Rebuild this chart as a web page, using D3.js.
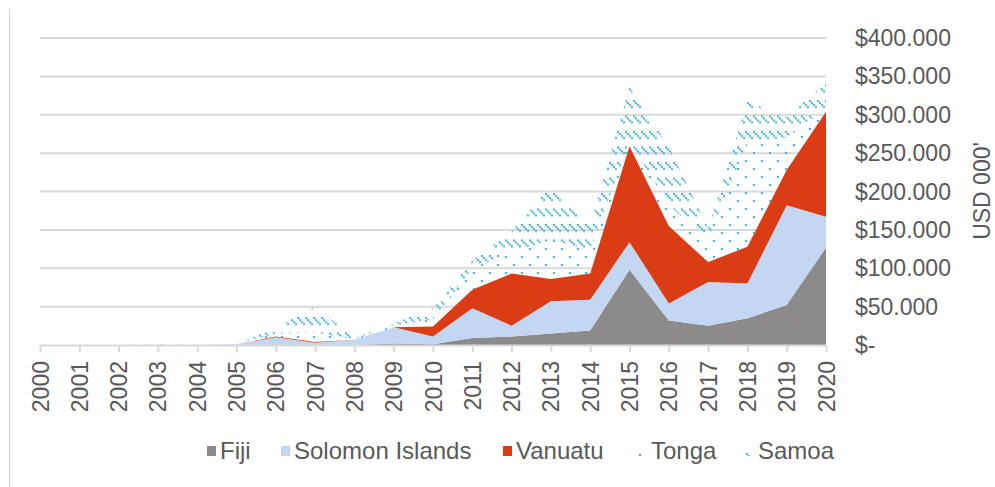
<!DOCTYPE html>
<html>
<head>
<meta charset="utf-8">
<script src="https://cdn.jsdelivr.net/npm/d3@7"></script>
<style>
  html, body { margin: 0; padding: 0; background: #fff; }
  svg { display: block; font-family: 'Liberation Sans', Arial, sans-serif; }
</style>
</head>
<body>
<div id="chart"></div>
<script>
// categories
const years = ['2000','2001','2002','2003','2004','2005','2006','2007','2008','2009','2010',
               '2011','2012','2013','2014','2015','2016','2017','2018','2019','2020']

// series values, USD 000'
const fiji    = [0, 0, 0, 0, 0, 0, 0, 0, 0, 2, 1, 9, 11, 15, 19, 98, 32, 25, 35, 52, 127]
const solomon = [0, 0, 0, 0, 0, 1, 10, 3, 7, 21, 10, 39, 14, 42, 40, 36, 22, 57, 45, 130, 40]
const vanuatu = [0, 0, 0, 0, 0, 0, 1, 1, 0, 0, 13, 24, 68, 29, 34, 125, 101, 26, 48, 46, 137]
const tonga   = [0, 0, 0, 1, 0, 0, 4, 12, 1, 2, 10, 28, 28, 51, 31, 6, 27, 29, 137, 42, 5]
const samoa   = [2, 0, 0, 1, 0, 0, 7, 34, 1, 3, 14, 10, 27, 71, 32, 71, 76, 15, 52, 27, 32]

const seriesNames = ['Fiji', 'Solomon Islands', 'Vanuatu', 'Tonga', 'Samoa']
const yTicks = [0, 50, 100, 150, 200, 250, 300, 350, 400]

const W = 995, H = 487
const blue = '#3fb2e6'

const table = years.map((yr, i) => ({
  year: yr,
  'Fiji': fiji[i],
  'Solomon Islands': solomon[i],
  'Vanuatu': vanuatu[i],
  'Tonga': tonga[i],
  'Samoa': samoa[i]
}))

const svg = d3.select('#chart').append('svg')
  .attr('width', W).attr('height', H)

// pattern fills: Tonga = sparse dots, Samoa = short downward diagonal dashes
const defs = svg.append('defs')
const pTonga = defs.append('pattern').attr('id', 'pat-tonga')
  .attr('patternUnits', 'userSpaceOnUse')
  .attr('x', 9).attr('y', 0).attr('width', 16).attr('height', 16)
pTonga.append('rect').attr('x', 0).attr('y', 0).attr('width', 2).attr('height', 2).attr('fill', blue)
pTonga.append('rect').attr('x', 8).attr('y', 8).attr('width', 2).attr('height', 2).attr('fill', blue)

const pSamoa = defs.append('pattern').attr('id', 'pat-samoa')
  .attr('patternUnits', 'userSpaceOnUse')
  .attr('x', 1).attr('y', 7).attr('width', 8).attr('height', 15.5)
;[0, 2, 4, 6].forEach(d => {
  pSamoa.append('rect').attr('x', d).attr('y', d).attr('width', 2).attr('height', 2).attr('fill', blue)
})

const fills = {
  'Fiji': '#8c8a8b',
  'Solomon Islands': '#c3d7f2',
  'Vanuatu': '#da3c15',
  'Tonga': 'url(#pat-tonga)',
  'Samoa': 'url(#pat-samoa)'
}

// chart frame (only the left edge is in view)
svg.append('line')
  .attr('x1', 9.5).attr('x2', 9.5).attr('y1', 9).attr('y2', H)
  .attr('stroke', '#c9d6ee').attr('stroke-width', 1)

const x = d3.scalePoint().domain(years).range([40, 826])
const y = d3.scaleLinear().domain([0, 400]).range([345, 38])

// gridlines
svg.append('g').selectAll('line')
  .data(yTicks.filter(d => d > 0))
  .join('line')
  .attr('x1', 40).attr('x2', 826)
  .attr('y1', d => y(d)).attr('y2', d => y(d))
  .attr('stroke', '#d9d9d9').attr('stroke-width', 2)

// stacked areas
const stack = d3.stack().keys(seriesNames)
const layers = stack(table)
const area = d3.area()
  .x(d => x(d.data.year))
  .y0(d => y(d[0]))
  .y1(d => y(d[1]))

svg.append('g').selectAll('path')
  .data(layers)
  .join('path')
  .attr('d', area)
  .attr('fill', d => fills[d.key])

// x axis
const xAxis = svg.append('g').attr('transform', `translate(0, ${y(0)})`)
  .call(d3.axisBottom(x).tickSize(7).tickSizeOuter(0))
xAxis.select('.domain').attr('stroke', '#d9d9d9').attr('stroke-width', 2)
xAxis.selectAll('.tick line').attr('stroke', '#d9d9d9').attr('stroke-width', 2)
xAxis.selectAll('.tick text')
  .attr('fill', '#595959')
  .style('font-size', '23px')
  .attr('transform', 'rotate(-90)')
  .attr('text-anchor', 'end')
  .attr('x', -16).attr('y', 0).attr('dy', '0.35em')

// right-side y labels, left aligned
svg.append('g').selectAll('text')
  .data(yTicks)
  .join('text')
  .attr('x', 855)
  .attr('y', d => y(d))
  .attr('dy', '0.35em')
  .attr('fill', '#595959')
  .style('font-size', '23px')
  .text(d => d === 0 ? '$-' : '$' + d3.format('.3f')(d))

svg.append('text')
  .attr('transform', 'translate(990, 191) rotate(-90)')
  .attr('text-anchor', 'middle')
  .attr('fill', '#595959')
  .style('font-size', '23px')
  .text("USD 000'")

// legend
const legendX = [207, 281, 503, 638, 745]
const lg = svg.append('g').selectAll('g')
  .data(seriesNames)
  .join('g')
  .attr('transform', (d, i) => `translate(${legendX[i]}, 446)`)
lg.append('rect')
  .attr('width', 9).attr('height', 10)
  .attr('fill', d => fills[d])
lg.append('text')
  .attr('x', 13).attr('y', 5).attr('dy', '0.35em')
  .attr('fill', '#595959')
  .style('font-size', '24px')
  .text(d => d)
</script>
</body>
</html>
